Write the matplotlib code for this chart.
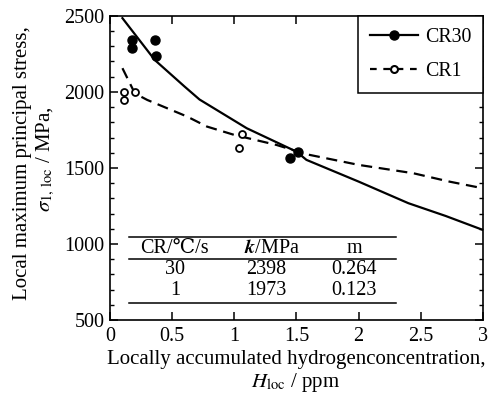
import matplotlib
matplotlib.use("Agg")
import matplotlib.pyplot as plt
from matplotlib.lines import Line2D
from matplotlib.ticker import MultipleLocator

plt.rcParams['font.family'] = ['Liberation Serif', 'DejaVu Serif']
plt.rcParams['mathtext.fontset'] = 'stix'

# measured points
cr30_h = [0.18, 0.18, 0.36, 0.37, 1.45, 1.51]
cr30_s = [2342, 2288, 2340, 2239, 1564, 1607]
cr1_h = [0.11, 0.11, 0.20, 1.04, 1.06]
cr1_s = [1998, 1947, 1998, 1630, 1722]

# fitted curves
cr30_fit_h = [0.1, 0.36, 0.6, 0.72, 1.1, 1.5, 1.58, 2.0, 2.4, 2.7, 3.0]
cr30_fit_s = [2485, 2210, 2035, 1950, 1761, 1607, 1553, 1410, 1268, 1184, 1092]
cr1_fit_h = [0.1, 0.2, 0.3, 0.62, 0.78, 1.0, 1.34, 1.58, 2.0, 2.44, 2.73, 3.0]
cr1_fit_s = [2156, 1990, 1947, 1838, 1772, 1717, 1651, 1590, 1520, 1465, 1410, 1366]

# table
table_header = ['CR/℃/s', r'$\mathbfit{k}$/MPa', 'm']
table_rows = [['30', '2398', '0.264'], ['1', '1973', '0.123']]

series_labels = ['CR30', 'CR1']
xticks = [0, 0.5, 1, 1.5, 2, 2.5, 3]
xticklabels = ['0', '0.5', '1', '1.5', '2', '2.5', '3']
yticks = [500, 1000, 1500, 2000, 2500]

fig = plt.figure(figsize=(4.9, 3.97), dpi=100)
ax = fig.add_axes([0.2245, 0.194, 0.7612, 0.766])

ax.plot(cr30_fit_h, cr30_fit_s, color='black', lw=1.6)
ax.plot(cr1_fit_h, cr1_fit_s, color='black', lw=1.6, dashes=(5, 3))
ax.plot(cr30_h, cr30_s, 'o', color='black', ms=6.5, ls='none')
ax.plot(cr1_h, cr1_s, 'o', mfc='white', mec='black', mew=1.3, ms=5, ls='none')

ax.set_xlim(0, 3)
ax.set_ylim(500, 2500)
ax.set_xticks(xticks)
ax.set_xticklabels(xticklabels)
ax.set_yticks(yticks)
ax.yaxis.set_minor_locator(MultipleLocator(100))
ax.tick_params(which='both', direction='in', top=True, right=True, labelsize=14.5)
ax.tick_params(which='major', length=6, width=1.1)
ax.tick_params(which='minor', length=3, width=1.0)
ax.tick_params(axis='x', pad=5)
ax.tick_params(axis='y', pad=4)
for sp in ax.spines.values():
    sp.set_linewidth(1.2)

handles = [
    Line2D([], [], color='black', lw=1.6, marker='o', ms=6.5),
    Line2D([], [], color='black', lw=1.6, dashes=(3, 3), marker='o', mfc='white',
           mec='black', mew=1.5, ms=5),
]
leg = ax.legend(handles, series_labels, loc='upper right', fontsize=14.3, frameon=True,
                fancybox=False, edgecolor='black', framealpha=1, borderaxespad=0,
                handlelength=2.4, handletextpad=0.35, labelspacing=0.75, borderpad=0.6)
leg.get_frame().set_linewidth(1.1)

# table drawing
tr = ax.transAxes
for yy in [0.274, 0.201, 0.057]:
    ax.add_line(Line2D([0.051, 0.767], [yy, yy], transform=tr, color='black', lw=1.1))
col_x_head = [0.174, 0.434, 0.654]
col_x_val = [0.174, 0.418, 0.654]
for x, t in zip(col_x_head, table_header):
    ax.text(x, 0.235, t, transform=tr, ha='center', va='center', fontsize=14.5)
for ry, row in zip([0.165, 0.097], table_rows):
    for x, t in zip(col_x_val, row):
        ax.text(x, ry, t, transform=tr, ha='center', va='center', fontsize=14.5)

# axis labels
fig.text(0.604, 0.094, 'Locally accumulated hydrogenconcentration,', ha='center',
         va='center', fontsize=15)
fig.text(0.604, 0.036, r'$H_{\mathrm{loc}}$ / ppm', ha='center', va='center', fontsize=15)
fig.text(0.045, 0.59, 'Local maximum principal stress,', rotation=90, ha='center',
         va='center', fontsize=15)
fig.text(0.093, 0.60, r'$\sigma_{1,\,\mathrm{loc}}$ / MPa,', rotation=90, ha='center',
         va='center', fontsize=15)

fig.savefig('out.png', dpi=100)
